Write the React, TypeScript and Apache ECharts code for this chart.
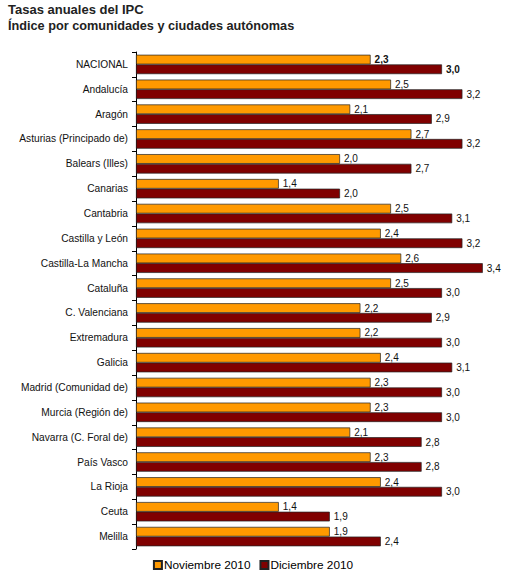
import React, { useEffect, useRef } from "react";
import * as echarts from "echarts";

const categories = [
  "NACIONAL", "Andalucía", "Aragón", "Asturias (Principado de)", "Balears (Illes)",
  "Canarias", "Cantabria", "Castilla y León", "Castilla-La Mancha", "Cataluña",
  "C. Valenciana", "Extremadura", "Galicia", "Madrid (Comunidad de)", "Murcia (Región de)",
  "Navarra (C. Foral de)", "País Vasco", "La Rioja", "Ceuta", "Melilla",
];
const noviembre = [2.3, 2.5, 2.1, 2.7, 2.0, 1.4, 2.5, 2.4, 2.6, 2.5, 2.2, 2.2, 2.4, 2.3, 2.3, 2.1, 2.3, 2.4, 1.4, 1.9];
const diciembre = [3.0, 3.2, 2.9, 3.2, 2.7, 2.0, 3.1, 3.2, 3.4, 3.0, 2.9, 3.0, 3.1, 3.0, 3.0, 2.8, 2.8, 3.0, 1.9, 2.4];
const seriesNames = ["Noviembre 2010", "Diciembre 2010"];
const titleLines = ["Tasas anuales del IPC", "Índice por comunidades y ciudades autónomas"];

const FONT = "Liberation Sans, Arial, sans-serif";

const fmt = (v: number) => v.toFixed(1).replace(".", ",");

export default function App() {
  const ref = useRef<HTMLDivElement>(null);
  useEffect(() => {
    if (!ref.current) return;
    const chart = echarts.init(ref.current, undefined, { renderer: "svg" });
    const mkData = (arr: number[]) =>
      arr.map((v, i) => ({
        value: v,
        label: i === 0 ? { fontWeight: "bold" } : undefined,
      }));
    const labelCfg = {
      show: true,
      position: "right",
      distance: 4,
      fontSize: 10,
      color: "#111",
      fontFamily: FONT,
      formatter: (p: any) => fmt(p.value),
    };
    chart.setOption({
      animation: false,
      backgroundColor: "#ffffff",
      textStyle: { fontFamily: FONT },
      graphic: [
        { type: "text", left: 8, top: 3, style: { text: titleLines[0], font: `bold 13px ${FONT}`, fill: "#222" } },
        { type: "text", left: 8, top: 19, style: { text: titleLines[1], font: `bold 12.7px ${FONT}`, fill: "#222" } },
      ],
      legend: {
        bottom: 11,
        left: "center",
        itemWidth: 8,
        itemHeight: 8,
        itemGap: 9,
        icon: "rect",
        textStyle: { fontSize: 11.8, color: "#000", fontFamily: FONT, padding: [0, 0, 0, -3] },
        data: seriesNames,
      },
      grid: { left: 136, right: 13, top: 52, bottom: 38 },
      xAxis: {
        type: "value",
        min: 0,
        max: 3.5,
        show: false,
      },
      yAxis: {
        type: "category",
        data: categories,
        inverse: true,
        axisLine: { show: true, lineStyle: { color: "#000", width: 1 } },
        axisTick: { show: true, length: 4, lineStyle: { color: "#000" } },
        axisLabel: { fontSize: 10.2, color: "#111", fontFamily: FONT, margin: 8 },
      },
      series: [
        {
          name: seriesNames[0],
          type: "bar",
          data: mkData(noviembre),
          barGap: "0%",
          barCategoryGap: "22%",
          itemStyle: { color: "#FF9900", borderColor: "#222", borderWidth: 0.7 },
          label: labelCfg,
        },
        {
          name: seriesNames[1],
          type: "bar",
          data: mkData(diciembre),
          barGap: "0%",
          barCategoryGap: "22%",
          itemStyle: { color: "#800000", borderColor: "#222", borderWidth: 0.7 },
          label: labelCfg,
        },
      ],
    });
    return () => chart.dispose();
  }, []);
  return <div ref={ref} style={{ position: "fixed", left: 0, top: 0, width: 506, height: 587 }} />;
}
